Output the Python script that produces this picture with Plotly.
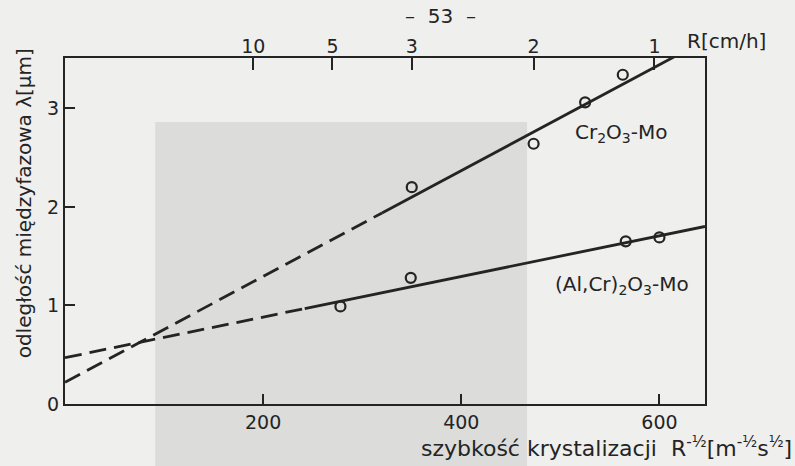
import plotly.graph_objects as go

# measured points: interphase spacing vs. R^-1/2
cr_x = [350, 473, 525, 563]
cr_y = [2.20, 2.64, 3.06, 3.34]
al_x = [278, 349, 566, 600]
al_y = [0.99, 1.28, 1.65, 1.69]

# straight-line fits (intercept, slope) and where the extrapolated part ends
cr_fit = (0.22, 0.00537)
al_fit = (0.47, 0.00206)
cr_solid_from = 320
al_solid_from = 242
x_max = 646
y_max = 3.51

# top scale: growth rate R [cm/h]
top_tick_pos = [190, 270, 350, 473, 595]
top_tick_text = ["10", "5", "3", "2", "1"]
y_ticks = [0, 1, 2, 3]
x_ticks = [200, 400, 600]

INK = "#242424"
FONT = "DejaVu Sans"


def line_pts(fit, x0, x1):
    a, b = fit
    return [x0, x1], [a + b * x0, a + b * x1]


fig = go.Figure()

for fit, xs in [(cr_fit, cr_solid_from), (al_fit, al_solid_from)]:
    dx, dy = line_pts(fit, 0, xs)
    fig.add_trace(go.Scatter(x=dx, y=dy, mode="lines",
                             line=dict(color=INK, width=2.8, dash="17px,8px"),
                             hoverinfo="skip"))
    sx, sy = line_pts(fit, xs, x_max)
    fig.add_trace(go.Scatter(x=sx, y=sy, mode="lines",
                             line=dict(color=INK, width=2.8),
                             hoverinfo="skip"))

for xs, ys in [(cr_x, cr_y), (al_x, al_y)]:
    fig.add_trace(go.Scatter(x=xs, y=ys, mode="markers",
                             marker=dict(symbol="circle-open", size=10,
                                         color=INK, line=dict(width=2.2))))

# dummy trace carrying the top axis
fig.add_trace(go.Scatter(x=[0], y=[0], xaxis="x2", mode="markers",
                         marker=dict(opacity=0), hoverinfo="skip"))

fig.update_layout(
    width=795, height=466,
    margin=dict(l=65, r=90, t=58, b=62),
    paper_bgcolor="#efefed",
    plot_bgcolor="rgba(0,0,0,0)",
    showlegend=False,
    font=dict(family=FONT, color=INK, size=19),
    xaxis=dict(range=[0, x_max], tickvals=x_ticks, ticks="inside",
               ticklen=10, tickwidth=1.6, tickcolor=INK,
               showline=True, linecolor=INK, linewidth=2.4, mirror=True,
               showgrid=False, zeroline=False, tickfont=dict(size=19)),
    xaxis2=dict(range=[0, x_max], overlaying="x", side="top",
                tickvals=top_tick_pos, ticktext=top_tick_text,
                ticks="inside", ticklen=12, tickwidth=1.6, tickcolor=INK,
                showline=False, showgrid=False, zeroline=False,
                tickfont=dict(size=19)),
    yaxis=dict(range=[0, y_max], tickvals=y_ticks, ticks="inside",
               ticklen=10, tickwidth=1.6, tickcolor=INK,
               showline=True, linecolor=INK, linewidth=2.4, mirror=True,
               showgrid=False, zeroline=False, tickfont=dict(size=19)),
)

# darker patch of the scanned page
fig.add_shape(type="rect", xref="paper", yref="paper",
              x0=0.141, x1=0.722, y0=-0.2, y1=0.815,
              fillcolor="#dcdcda", line=dict(width=0), layer="below")

fig.add_annotation(text="odległość międzyfazowa λ[μm]", xref="paper",
                   yref="paper", x=-0.064, y=0.58, textangle=-90,
                   xanchor="center", yanchor="middle",
                   showarrow=False, font=dict(size=20))
fig.add_annotation(
    text="szybkość krystalizacji  R<sup>-½</sup>[m<sup>-½</sup>s<sup>½</sup>]",
    xref="paper", yref="paper", x=1.139, y=-0.124, xanchor="right",
    yanchor="middle", showarrow=False, font=dict(size=22))
fig.add_annotation(text="R[cm/h]", xref="paper", yref="paper",
                   x=0.969, y=1.05, xanchor="left", yanchor="middle",
                   showarrow=False, font=dict(size=20))
fig.add_annotation(text="–  53  –", xref="paper", yref="paper",
                   x=0.587, y=1.12, xanchor="center", yanchor="middle",
                   showarrow=False, font=dict(size=20))
fig.add_annotation(text="Cr<sub>2</sub>O<sub>3</sub>-Mo", x=513, y=2.75,
                   xanchor="left", yanchor="middle", showarrow=False,
                   font=dict(size=20))
fig.add_annotation(text="(Al,Cr)<sub>2</sub>O<sub>3</sub>-Mo", x=493, y=1.21,
                   xanchor="left", yanchor="middle", showarrow=False,
                   font=dict(size=20))

fig.write_html("out.html")
